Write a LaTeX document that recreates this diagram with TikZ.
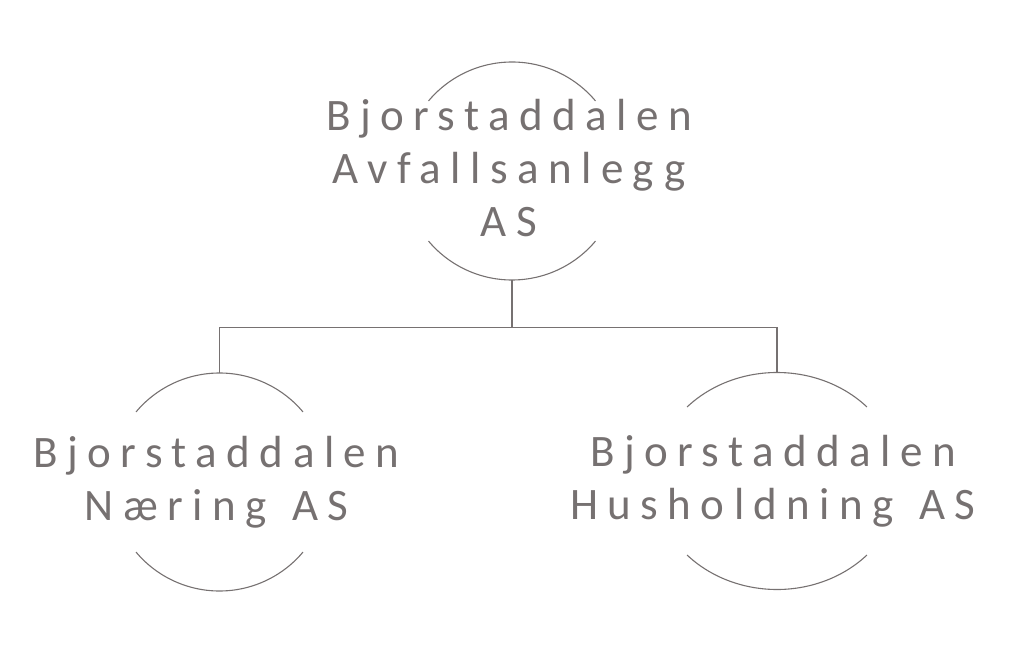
\documentclass[tikz,border=0pt]{standalone}
\usepackage{fontspec}
\usetikzlibrary{shapes.geometric}
\setmainfont{Carlito}
\newfontfamily\orgfont[LetterSpace=21,WordSpace=1.3]{Carlito}
\definecolor{orggray}{RGB}{118,113,113}
\tikzset{
  unit/.style={align=center, inner sep=0pt, text=orggray, font=\orgfont\fontsize{45}{53}\selectfont},
  ring/.style={circle, minimum size=218pt, inner sep=0pt},
  arcline/.style={draw=orggray, line width=1.1pt},
  link/.style={draw=orggray, line width=1.1pt}
}
\begin{document}
\begin{tikzpicture}[x=1pt,y=1pt]
\useasboundingbox (0,0) rectangle (1024,654);

\node [ring] (ra) at (512,483) {};
\node [ring] (rn) at (219.5,172) {};
\node [ellipse, minimum width=246pt, minimum height=217pt, inner sep=0pt] (rh) at (777,173) {};

\node [unit] (ta) at ([xshift=-3,yshift=3]ra.center) {Bjorstaddalen\\Avfallsanlegg\\AS};
\node [unit] (tn) at ([xshift=-3]rn.center) {Bjorstaddalen\\Næring AS};
\node [unit] (th) at ([xshift=-4]rh.center) {Bjorstaddalen\\Husholdning AS};

\draw [arcline] (ra.center) ++(40:109) arc[start angle=40, end angle=140, radius=109];
\draw [arcline] (ra.center) ++(220:109) arc[start angle=220, end angle=320, radius=109];
\draw [arcline] (rn.center) ++(40:109) arc[start angle=40, end angle=140, radius=109];
\draw [arcline] (rn.center) ++(220:109) arc[start angle=220, end angle=320, radius=109];
\draw [arcline] (rh.center) ++(43:123 and 108.5) arc[start angle=43, end angle=137, x radius=123, y radius=108.5];
\draw [arcline] (rh.center) ++(223:123 and 108.5) arc[start angle=223, end angle=317, x radius=123, y radius=108.5];

\coordinate (bus) at ([yshift=-47]ra.south);
\draw [link] (ra.south) -- (bus);
\draw [link] (rn.north) |- (bus) -| (rh.north);

\end{tikzpicture}
\end{document}
